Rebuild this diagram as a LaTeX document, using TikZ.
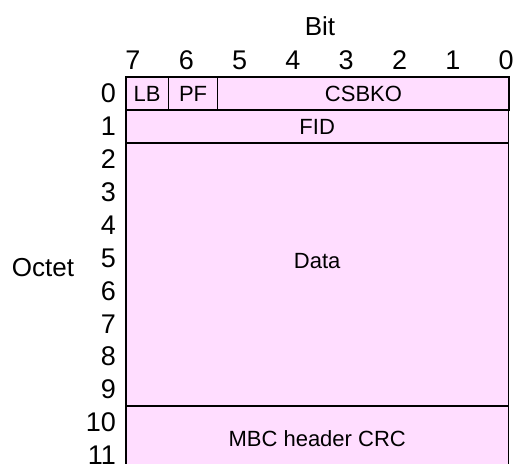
\documentclass[tikz,border=0pt]{standalone}
\usepackage{fontspec}
\setmainfont{Liberation Sans}
\definecolor{rose}{RGB}{255,221,255}
\begin{document}
\begin{tikzpicture}[x=1pt,y=-1pt]
% Styles
\tikzstyle{champ}=[fill=rose,rectangle,anchor=north west,inner sep=0pt,font=\fontsize{22}{26}\selectfont]
\tikzstyle{texte}=[inner sep=0pt,font=\fontsize{22}{26}\selectfont]
\tikzstyle{cadre}=[line width=1.8pt]
\tikzstyle{separation}=[line width=0.9pt]
\tikzstyle{numero}=[inner sep=0pt,font=\fontsize{27}{32}\selectfont]
\tikzstyle{titre}=[inner sep=0pt,font=\fontsize{26}{31}\selectfont]
% Dimensions
\def\Gauche{126}
\def\Haut{77}
\def\LargeurTotale{382pt}
\def\HauteurOctet{32.9}
\def\PasBit{53.3}
\def\AbscisseBitSept{133}
\def\OrdonneeBits{60}
\def\AbscisseOctets{116}
% Dimensions calculées
\def\LigneA{(\Haut)}
\def\LigneB{(\Haut+\HauteurOctet)}
\def\LigneC{(\Haut+2*\HauteurOctet)}
\def\LigneD{(\Haut+10*\HauteurOctet)}
\useasboundingbox (0,0) rectangle (513,463);
% Champs
\node[champ,minimum width=42pt,minimum height=\HauteurOctet pt] (LB) at ({\Gauche},{\LigneA}) {LB};
\node[champ,minimum width=49pt,minimum height=\HauteurOctet pt] (PF) at (LB.north east) {PF};
\node[champ,minimum width=291pt,minimum height=\HauteurOctet pt] (CSBKO) at (PF.north east) {CSBKO};
\node[champ,minimum width=\LargeurTotale,minimum height=\HauteurOctet pt] (FID) at ({\Gauche},{\LigneB}) {FID};
\node[champ,minimum width=\LargeurTotale,minimum height=8*\HauteurOctet pt] (Data) at ({\Gauche},{\LigneC}) {};
\node[texte] (DataTexte) at ([yshift=14pt]Data.center) {Data};
\node[champ,minimum width=\LargeurTotale,minimum height=2*\HauteurOctet pt] (CRC) at ({\Gauche},{\LigneD}) {MBC header CRC};
% Traits
\draw[separation] (LB.north east)--(LB.south east);
\draw[separation] (PF.north east)--(PF.south east);
\draw[cadre] (LB.north west) rectangle (CSBKO.south east);
\draw[cadre] (FID.north west) rectangle (FID.south east);
\draw[cadre] (Data.north west) rectangle (Data.south east);
\draw[cadre] (CRC.north west) rectangle (CRC.south east);
% Titres
\node[titre] (Bit) at (320,26) {Bit};
\node[titre] (Octet) at (43,268) {Octet};
% Numeros des bits
\node[numero] (b7) at ({\AbscisseBitSept+0*\PasBit},{\OrdonneeBits}) {7};
\node[numero] (b6) at ({\AbscisseBitSept+1*\PasBit},{\OrdonneeBits}) {6};
\node[numero] (b5) at ({\AbscisseBitSept+2*\PasBit},{\OrdonneeBits}) {5};
\node[numero] (b4) at ({\AbscisseBitSept+3*\PasBit},{\OrdonneeBits}) {4};
\node[numero] (b3) at ({\AbscisseBitSept+4*\PasBit},{\OrdonneeBits}) {3};
\node[numero] (b2) at ({\AbscisseBitSept+5*\PasBit},{\OrdonneeBits}) {2};
\node[numero] (b1) at ({\AbscisseBitSept+6*\PasBit},{\OrdonneeBits}) {1};
\node[numero] (b0) at ({\AbscisseBitSept+7*\PasBit},{\OrdonneeBits}) {0};
% Numeros des octets
\node[numero,anchor=east] (o0) at ({\AbscisseOctets},{\Haut+0.5*\HauteurOctet}) {0};
\node[numero,anchor=east] (o1) at ({\AbscisseOctets},{\Haut+1.5*\HauteurOctet}) {1};
\node[numero,anchor=east] (o2) at ({\AbscisseOctets},{\Haut+2.5*\HauteurOctet}) {2};
\node[numero,anchor=east] (o3) at ({\AbscisseOctets},{\Haut+3.5*\HauteurOctet}) {3};
\node[numero,anchor=east] (o4) at ({\AbscisseOctets},{\Haut+4.5*\HauteurOctet}) {4};
\node[numero,anchor=east] (o5) at ({\AbscisseOctets},{\Haut+5.5*\HauteurOctet}) {5};
\node[numero,anchor=east] (o6) at ({\AbscisseOctets},{\Haut+6.5*\HauteurOctet}) {6};
\node[numero,anchor=east] (o7) at ({\AbscisseOctets},{\Haut+7.5*\HauteurOctet}) {7};
\node[numero,anchor=east] (o8) at ({\AbscisseOctets},{\Haut+8.5*\HauteurOctet}) {8};
\node[numero,anchor=east] (o9) at ({\AbscisseOctets},{\Haut+9.5*\HauteurOctet}) {9};
\node[numero,anchor=east] (o10) at ({\AbscisseOctets},{\Haut+10.5*\HauteurOctet}) {10};
\node[numero,anchor=east] (o11) at ({\AbscisseOctets},{\Haut+11.5*\HauteurOctet}) {11};
\end{tikzpicture}
\end{document}
